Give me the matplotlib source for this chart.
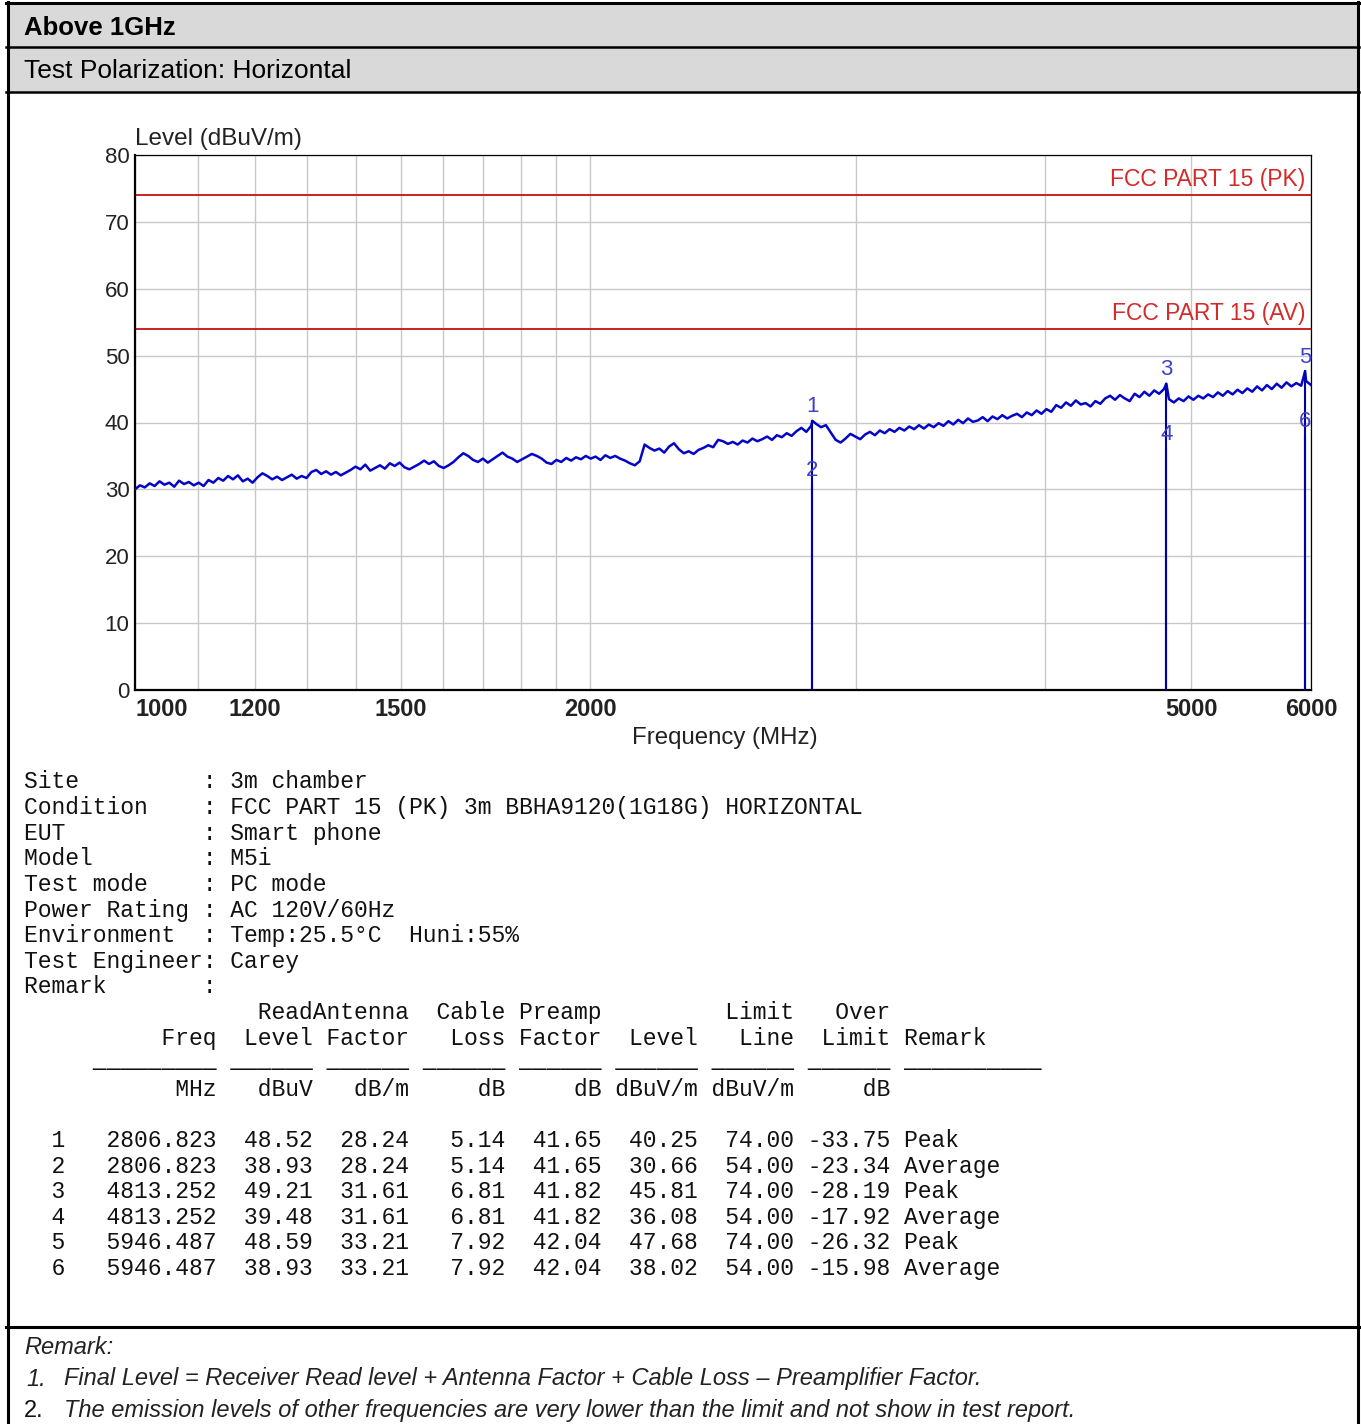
import matplotlib
matplotlib.use('Agg')
import matplotlib.pyplot as plt
import matplotlib.transforms as mtransforms
from matplotlib.lines import Line2D
from matplotlib.patches import Rectangle
import numpy as np


# ---- data ----

sweep_start = 1000.0   # MHz
sweep_stop = 6000.0

# measured level trace (dBuV/m), one value per sweep point
trace_levels = [
    30.0, 30.6, 30.3, 30.9, 30.5, 31.2, 30.7, 31.0, 30.4, 31.3, 30.8, 31.1, 30.6, 31.0, 30.5, 31.4, 31.0, 31.7, 31.3, 32.0,
    31.5, 32.1, 31.2, 31.6, 31.0, 31.8, 32.4, 32.0, 31.5, 31.9, 31.4, 31.8, 32.2, 31.6, 32.0, 31.7, 32.6, 32.9, 32.3, 32.7,
    32.2, 32.6, 32.1, 32.5, 32.9, 33.4, 33.0, 33.7, 32.8, 33.2, 33.6, 33.1, 33.9, 33.5, 34.0, 33.3, 33.0, 33.4, 33.8, 34.3,
    33.8, 34.2, 33.5, 33.2, 33.6, 34.1, 34.8, 35.4, 35.0, 34.4, 34.1, 34.6, 34.0, 34.5, 35.0, 35.5, 34.9, 34.6, 34.1, 34.5,
    34.9, 35.3, 35.0, 34.6, 34.0, 33.8, 34.4, 34.1, 34.7, 34.3, 34.8, 34.5, 35.0, 34.6, 34.9, 34.4, 35.1, 34.7, 35.0, 34.6,
    34.3, 33.9, 33.6, 34.2, 36.7, 36.2, 35.8, 36.1, 35.5, 36.4, 36.9, 36.0, 35.4, 35.7, 35.3, 35.9, 36.2, 36.6, 36.3, 37.4,
    37.2, 36.8, 37.1, 36.7, 37.3, 37.0, 37.6, 37.2, 37.5, 37.9, 37.4, 38.1, 37.8, 38.4, 38.0, 38.7, 39.2, 38.6, 39.5, 39.8,
    39.3, 39.6, 38.5, 37.4, 37.0, 37.6, 38.3, 37.9, 37.5, 38.2, 38.6, 38.1, 38.8, 38.4, 39.0, 38.6, 39.2, 38.8, 39.4, 39.0,
    39.6, 39.1, 39.7, 39.3, 39.9, 39.5, 40.2, 39.7, 40.4, 39.9, 40.6, 40.1, 40.3, 40.8, 40.2, 40.9, 40.5, 41.1, 40.6, 41.0,
    41.3, 40.8, 41.5, 41.1, 41.8, 41.3, 42.0, 41.6, 42.6, 42.2, 43.0, 42.5, 43.3, 42.7, 42.9, 42.4, 43.2, 42.8, 43.6, 44.0,
    43.4, 44.1, 43.6, 43.2, 44.3, 43.8, 44.6, 44.0, 44.8, 44.3, 45.0, 43.5, 43.0, 43.6, 43.2, 43.9, 43.4, 44.0, 43.6, 44.2,
    43.8, 44.5, 44.0, 44.7, 44.2, 44.9, 44.4, 45.1, 44.6, 45.4, 44.8, 45.6, 45.0, 45.8, 45.2, 46.0, 45.4, 45.9, 45.5, 46.2,
    45.6,
]

limit_levels = [74.0, 54.0]
limit_names = ['FCC PART 15 (PK)', 'FCC PART 15 (AV)']

marker_no = [1, 2, 3, 4, 5, 6]
marker_freq = [2806.823, 2806.823, 4813.252, 4813.252, 5946.487, 5946.487]
read_level = [48.52, 38.93, 49.21, 39.48, 48.59, 38.93]
antenna_factor = [28.24, 28.24, 31.61, 31.61, 33.21, 33.21]
cable_loss = [5.14, 5.14, 6.81, 6.81, 7.92, 7.92]
preamp_factor = [41.65, 41.65, 41.82, 41.82, 42.04, 42.04]
marker_level = [40.25, 30.66, 45.81, 36.08, 47.68, 38.02]
limit_line = [74.00, 54.00, 74.00, 54.00, 74.00, 54.00]
over_limit = [-33.75, -23.34, -28.19, -17.92, -26.32, -15.98]
marker_remark = ['Peak', 'Average', 'Peak', 'Average', 'Peak', 'Average']

x_ticks = [1000, 1200, 1500, 2000, 5000, 6000]
x_minor_grid = [1100, 1300, 1400, 1600, 1700, 1800, 1900, 3000, 4000]
y_ticks = [0, 10, 20, 30, 40, 50, 60, 70, 80]

info = [
    ('Site', '3m chamber'),
    ('Condition', 'FCC PART 15 (PK) 3m BBHA9120(1G18G) HORIZONTAL'),
    ('EUT', 'Smart phone'),
    ('Model', 'M5i'),
    ('Test mode', 'PC mode'),
    ('Power Rating', 'AC 120V/60Hz'),
    ('Environment', 'Temp:25.5\u00b0C  Huni:55%'),
    ('Test Engineer', 'Carey'),
    ('Remark', ''),
]

remarks = [
    'Final Level = Receiver Read level + Antenna Factor + Cable Loss \u2013 Preamplifier Factor.',
    'The emission levels of other frequencies are very lower than the limit and not show in test report.',
]


# ---- page layout helpers (pixel coords, origin top-left) ----

W, H = 1361, 1424
fig = plt.figure(figsize=(W / 100, H / 100), dpi=100)


def fx(x):
    return x / W


def fy(y):
    return 1 - y / H


def hline(y, x0, x1, lw=2.2):
    fig.add_artist(Line2D([fx(x0), fx(x1)], [fy(y), fy(y)], color='black', lw=lw))


def vline(x, y0, y1, lw=2.2):
    fig.add_artist(Line2D([fx(x), fx(x)], [fy(y0), fy(y1)], color='black', lw=lw))


# grey header rows
for y0, y1 in [(4, 47), (47, 92)]:
    fig.add_artist(Rectangle((fx(8), fy(y1)), fx(1349), (y1 - y0) / H,
                             facecolor='#d9d9d9', edgecolor='none'))

hline(3, 6, 1359)
hline(47, 6, 1359, lw=1.8)
hline(92, 6, 1359, lw=1.8)
hline(1327, 6, 1359)
vline(7.5, 2, 1424)
vline(1357.5, 2, 1424)

fig.text(fx(24), fy(28), 'Above 1GHz', family='Liberation Sans', fontweight='bold',
         fontsize=18.5, va='center')
fig.text(fx(24), fy(71), 'Test Polarization: Horizontal', family='Liberation Sans',
         fontsize=19, va='center')


# ---- chart ----

ax = fig.add_axes([fx(135), fy(690), (1311 - 135) / W, (690 - 155) / H])
ax.set_xscale('log')
ax.set_xlim(sweep_start, sweep_stop)
ax.set_ylim(0, 80)

ax.set_xticks(x_ticks)
ax.set_xticks(x_minor_grid, minor=True)
ax.set_xticklabels([str(t) for t in x_ticks], family='Liberation Sans',
                   fontweight='bold', fontsize=17, color='#222222')
ax.xaxis.set_minor_formatter(matplotlib.ticker.NullFormatter())
ax.set_yticks(y_ticks)
ax.set_yticklabels([str(t) for t in y_ticks], family='Liberation Sans',
                   fontsize=16, color='#222222')
ax.tick_params(which='both', length=0)
ax.tick_params(axis='y', pad=4)
ax.tick_params(axis='x', pad=6)
ax.get_xticklabels()[0].set_horizontalalignment('left')
ax.grid(True, which='both', color='#c8c8c8', lw=1.0)
ax.set_axisbelow(True)

for side in ['top', 'right']:
    ax.spines[side].set_linewidth(0.9)
for side in ['left', 'bottom']:
    ax.spines[side].set_linewidth(1.6)

# trace with the marker peaks dropped in at their frequencies
sweep_freq = np.geomspace(sweep_start, sweep_stop, len(trace_levels))
peak_idx = [0, 2, 4]
all_f = np.concatenate([sweep_freq, [marker_freq[i] for i in peak_idx]])
all_l = np.concatenate([trace_levels, [marker_level[i] for i in peak_idx]])
order = np.argsort(all_f)
ax.plot(all_f[order], all_l[order], color='#0505c8', lw=1.8, zorder=3)

# limit lines
blend = mtransforms.blended_transform_factory(ax.transAxes, ax.transData)
for lvl, name in zip(limit_levels, limit_names):
    ax.axhline(lvl, color='#cc2020', lw=1.4, zorder=2)
    ax.text(0.995, lvl + 0.6, name, transform=blend, ha='right', va='bottom',
            family='Liberation Sans', fontsize=16.5, color='#d42a2a')

# markers
for n, f, lv in zip(marker_no, marker_freq, marker_level):
    ax.plot([f, f], [0, lv], color='#0000a8', lw=1.5, zorder=4)
    ax.text(f, lv + 2.1, str(n), ha='center', va='center', fontsize=16,
            family='Liberation Sans', color='#4040cc', zorder=5)

fig.text(fx(135), fy(139), 'Level (dBuV/m)', family='Liberation Sans', fontsize=17.5,
         va='center', color='#222222')
fig.text(fx(725), fy(738), 'Frequency (MHz)', family='Liberation Sans', fontsize=17.3,
         va='center', ha='center', color='#222222')


# ---- fixed-width test record ----

mono = dict(family='Liberation Mono', fontsize=16.56, va='center', color='#111111')
line_h = 25.6

for i, (label, value) in enumerate(info):
    text = f'{label:<13}: {value}'.rstrip()
    fig.text(fx(24), fy(782 + i * line_h), text, **mono)

widths = [3, 11, 7, 7, 7, 7, 7, 7, 7]


def table_line(cells, remark=''):
    s = ''.join(f'{c:>{w}}' for c, w in zip(cells, widths))
    return (s + ' ' + remark).rstrip()


head1 = table_line(['', '', 'Read', 'Antenna', 'Cable', 'Preamp', '', 'Limit', 'Over'])
head2 = table_line(['', 'Freq', 'Level', 'Factor', 'Loss', 'Factor', 'Level', 'Line', 'Limit'],
                   'Remark')
rules = table_line(['', '_' * 9] + ['_' * 6] * 7, '_' * 10)
units = table_line(['', 'MHz', 'dBuV', 'dB/m', 'dB', 'dB', 'dBuV/m', 'dBuV/m', 'dB'])

fig.text(fx(24), fy(1012.4), head1, **mono)
fig.text(fx(24), fy(1038), head2, **mono)
fig.text(fx(24), fy(1061), rules, **mono)
fig.text(fx(24), fy(1089.2), units, **mono)

for k in range(len(marker_no)):
    cells = [str(marker_no[k]), f'{marker_freq[k]:.3f}', f'{read_level[k]:.2f}',
             f'{antenna_factor[k]:.2f}', f'{cable_loss[k]:.2f}', f'{preamp_factor[k]:.2f}',
             f'{marker_level[k]:.2f}', f'{limit_line[k]:.2f}', f'{over_limit[k]:.2f}']
    fig.text(fx(24), fy(1140.4 + k * line_h), table_line(cells, marker_remark[k]), **mono)


# ---- remarks ----

sans_i = dict(family='Liberation Sans', fontsize=17, style='italic', va='center',
              color='#222222')
fig.text(fx(24), fy(1347), 'Remark:', **sans_i)
fig.text(fx(26), fy(1379), '1.', **sans_i)
fig.text(fx(64), fy(1379), remarks[0], **sans_i)
fig.text(fx(24), fy(1411), '2.', family='Liberation Sans', fontsize=17, va='center',
         color='#111111')
fig.text(fx(64), fy(1411), remarks[1], **sans_i)

fig.savefig('out.png', dpi=100)
